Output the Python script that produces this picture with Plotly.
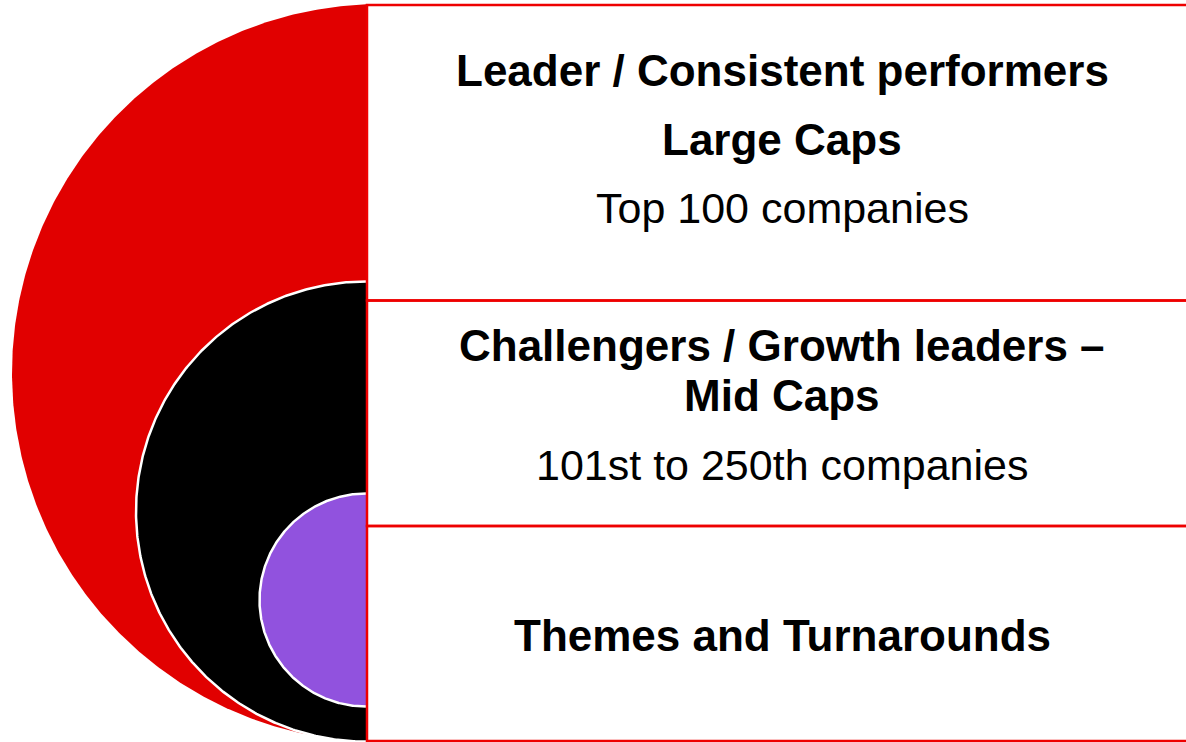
"""
Nested half-circle diagram of the three portfolio tiers, with a text box for each.
"""

import numpy as np
import plotly.graph_objects as go

# tier content
tier_titles = ["Leader / Consistent performers", "Challengers / Growth leaders –", "Themes and Turnarounds"]
tier_caps = ["Large Caps", "Mid Caps", ""]
tier_ranges = ["Top 100 companies", "101st to 250th companies", ""]
tier_colors = ["#e10000", "#000000", "#9152de"]

# layout geometry (pixels, y grows downward)
W, H = 1186, 742
EDGE = 366
circles = [(381, 373, 369), (EDGE, 511.5, 230), (EDGE, 600, 106.5)]
box_rows = [(5, 300.5), (300.5, 526), (526, 741)]
title_y = [70, 345, 635]
caps_y = [139, 395, None]
range_y = [208, 465, None]
TEXT_X = 782
BORDER = "#ee0000"


def half_disc(cx, cy, r):
    # the part of the circle left of the box edge
    ang0 = np.arccos(np.clip((EDGE - cx) / r, -1, 1))
    ang = np.linspace(ang0, 2 * np.pi - ang0, 400)
    return cx + r * np.cos(ang), cy - r * np.sin(ang)


fig = go.Figure()

for i, ((cx, cy, r), color) in enumerate(zip(circles, tier_colors)):
    xs, ys = half_disc(cx, cy, r)
    fig.add_trace(go.Scatter(
        x=xs, y=ys, mode="lines", fill="toself", fillcolor=color,
        line=dict(color=color if i == 0 else "white", width=0 if i == 0 else 2.5),
        hoverinfo="skip", showlegend=False,
    ))

for y0, y1 in box_rows:
    fig.add_shape(type="rect", xref="x", yref="y", x0=EDGE + 1, x1=W + 10, y0=y0, y1=y1,
                  line=dict(color=BORDER, width=2.5), fillcolor="rgba(0,0,0,0)")

bold = dict(family="Liberation Sans, Arial, sans-serif", size=44, color="black", weight="bold")
light = dict(family="Liberation Sans, Arial, sans-serif", size=43, color="black")

for i in range(3):
    fig.add_annotation(x=TEXT_X, y=title_y[i], text=tier_titles[i], showarrow=False,
                       xref="x", yref="y", font=bold)
    if tier_caps[i]:
        fig.add_annotation(x=TEXT_X, y=caps_y[i], text=tier_caps[i], showarrow=False,
                           xref="x", yref="y", font=bold)
    if tier_ranges[i]:
        fig.add_annotation(x=TEXT_X, y=range_y[i], text=tier_ranges[i], showarrow=False,
                           xref="x", yref="y", font=light)

fig.update_layout(
    width=W, height=H, autosize=False,
    margin=dict(l=0, r=0, t=0, b=0),
    paper_bgcolor="white", plot_bgcolor="white",
    xaxis=dict(range=[0, W], visible=False, fixedrange=True),
    yaxis=dict(range=[H, 0], visible=False, fixedrange=True),
)

# drop the default page margin so the figure sits at the window corner
fig.write_html("out.html", config={"displayModeBar": False},
               post_script="document.body.style.margin='0';")
